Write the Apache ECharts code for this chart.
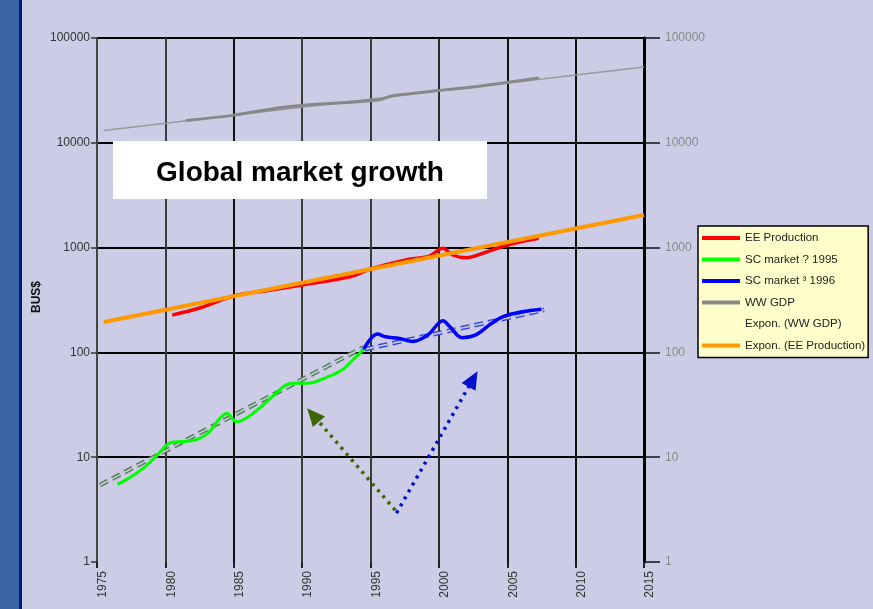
<!DOCTYPE html>
<html>
<head>
<meta charset="utf-8">
<script src="https://cdn.jsdelivr.net/npm/echarts@6/dist/echarts.min.js"></script>
<style>
html,body{margin:0;padding:0;background:#CCCCE6;}
#chart{width:873px;height:609px;}
</style>
</head>
<body>
<div id="chart"></div>
<script>
// ---------- data ----------
const xTickYears = [1975, 1980, 1985, 1990, 1995, 2000, 2005, 2010, 2015];
const yTickValues = [1, 10, 100, 1000, 10000, 100000];

const eeYears  = [1980.5, 1982.5, 1985, 1987.5, 1990, 1993.5, 1995, 1997.5, 1999.3, 2000.3, 2001, 2002, 2003.3, 2005, 2007.3];
const eeValues = [227, 265, 345, 390, 440, 527, 625, 760, 830, 985, 850, 800, 890, 1060, 1230];

const scAYears  = [1976.5, 1977.5, 1978.5, 1979.3, 1980.3, 1981.2, 1982.2, 1983.1, 1984, 1984.5, 1985.2, 1985.9, 1987, 1988.2, 1988.8, 1989.4, 1990.4, 1991.9, 1993, 1993.7, 1994.5];
const scAValues = [5.5, 6.5, 8.1, 10.1, 13.6, 14.1, 14.6, 16.9, 23.5, 26.2, 21.8, 23.5, 30.3, 42, 48.9, 50.7, 50.7, 58.6, 69, 84.6, 107];

const scBYears  = [1994.5, 1995.5, 1996.1, 1997.1, 1998.1, 1999.2, 2000.3, 2000.8, 2001.7, 2002.7, 2003.7, 2004.7, 2006.1, 2007.5];
const scBValues = [107, 150, 141, 136, 127, 147, 201, 176, 138, 147, 183, 219, 244, 258];

const gdpYears  = [1981.5, 1984.9, 1989.1, 1995.6, 1996.6, 2003.2, 2007.3];
const gdpValues = [16360, 18270, 22250, 25600, 28100, 35100, 41600];

const gdpTrendYears  = [1975.5, 2015];
const gdpTrendValues = [13100, 53000];
const eeTrendYears   = [1975.5, 2015];
const eeTrendValues  = [195, 2050];
const scATrendYears  = [1975.2, 1994.5];
const scATrendValues = [5.4, 112];
const scBTrendYears  = [1994.6, 2007.7];
const scBTrendValues = [107, 254];

// arrows: [startYear, startValue, endYear, endValue]
const greenArrow = [1996.8, 3.13, 1990.8, 25.3];
const blueArrow  = [1996.9, 2.93, 2002.5, 55.7];

const legendNames = ['EE Production', 'SC market ? 1995', 'SC market \u00B3 1996', 'WW GDP', 'Expon. (WW GDP)', 'Expon. (EE Production)'];
const titleText = 'Global market growth';
const yName = 'BUS$';

// ---------- build ----------
const pairs = (xs, ys) => xs.map((x, i) => [x, ys[i]]);
const FONT = '"Liberation Sans", Arial, sans-serif';
const BG = '#CCCCE6';

function line(name, data, color, width, extra) {
  return Object.assign({
    name: name, type: 'line', data: data, showSymbol: false, symbol: 'none',
    lineStyle: { color: color, width: width }, itemStyle: { color: color },
    silent: true, smooth: 0.35
  }, extra || {});
}
function hollowTrend(data, color) {
  return [
    { type: 'line', data: data, symbol: 'none', silent: true, z: 1,
      lineStyle: { color: color, width: 4.5, type: [9, 5] } },
    { type: 'line', data: data, symbol: 'none', silent: true, z: 1,
      lineStyle: { color: BG, width: 1.6, type: [9, 5] } }
  ];
}

const chart = echarts.init(document.getElementById('chart'), null, { renderer: 'canvas' });

const option = {
  animation: false,
  backgroundColor: BG,
  textStyle: { fontFamily: FONT },
  grid: { left: 97, right: 229, top: 38, bottom: 47 },
  xAxis: {
    type: 'value', min: xTickYears[0], max: xTickYears[xTickYears.length - 1], interval: 5,
    axisLine: { show: false },
    axisTick: { show: true, length: 6, lineStyle: { color: '#222', width: 2 } },
    axisLabel: { rotate: 90, fontSize: 12, color: '#333', margin: 9, fontFamily: FONT,
                 verticalAlign: 'top', formatter: v => String(v) },
    splitLine: { show: true, lineStyle: { width: 2,
      color: ['#333', '#3a3a3a', '#111', '#3a3a3a', '#3a3a3a', '#2a2a2a', '#111', '#111', '#111'] } }
  },
  yAxis: [
    {
      type: 'log', logBase: 10, min: yTickValues[0], max: yTickValues[yTickValues.length - 1],
      axisLine: { show: true, lineStyle: { color: '#444', width: 2 } },
      axisTick: { show: true, length: 6, lineStyle: { color: '#333', width: 1.5 } },
      axisLabel: { fontSize: 12, color: '#333', margin: 7, fontFamily: FONT, formatter: v => String(Math.round(v)) },
      splitLine: { show: true, showMinLine: false, lineStyle: { color: '#000', width: 2 } }
    },
    {
      type: 'log', logBase: 10, min: yTickValues[0], max: yTickValues[yTickValues.length - 1],
      position: 'right',
      axisLine: { show: true, lineStyle: { color: '#000', width: 3 } },
      axisTick: { show: true, length: 16, lineStyle: { color: '#111', width: 1.5 } },
      axisLabel: { fontSize: 12, color: '#8a8a8a', margin: 21, fontFamily: FONT, formatter: v => String(Math.round(v)) },
      splitLine: { show: false }
    }
  ],
  legend: {
    orient: 'vertical', left: 698, top: 226,
    backgroundColor: '#FFFFCC', borderColor: '#000', borderWidth: 1.5,
    padding: [5, 3, 5, 4], itemGap: 7.5, itemWidth: 38, itemHeight: 4, icon: 'rect',
    selectedMode: false,
    textStyle: { fontSize: 11.5, color: '#222', fontFamily: FONT, lineHeight: 14 },
    data: [
      { name: legendNames[0] }, { name: legendNames[1] }, { name: legendNames[2] }, { name: legendNames[3] },
      { name: legendNames[4], itemStyle: { opacity: 0 } }, { name: legendNames[5] }
    ]
  },
  graphic: [
    { type: 'rect', z: -10, shape: { x: 0, y: 0, width: 19, height: 609 }, style: { fill: '#3a64a5' } },
    { type: 'rect', z: -10, shape: { x: 19, y: 0, width: 3, height: 609 }, style: { fill: '#0b1a80' } },
    { type: 'text', z: 5, x: 37, y: 297, rotation: Math.PI / 2,
      style: { text: yName, font: 'bold 12px ' + FONT, fill: '#111', textAlign: 'center', textVerticalAlign: 'middle' } },
    { type: 'rect', z: 50, shape: { x: 113, y: 141, width: 374, height: 58 }, style: { fill: '#FFFFFF' } },
    { type: 'text', z: 51, x: 300, y: 173,
      style: { text: titleText, font: 'bold 28px ' + FONT, fill: '#000', textAlign: 'center', textVerticalAlign: 'middle' } }
  ],
  series: [
    line(legendNames[4], pairs(gdpTrendYears, gdpTrendValues), '#9a9a9a', 1.5, { smooth: false }),
    line(legendNames[3], pairs(gdpYears, gdpValues), '#888888', 3),
    ...hollowTrend(pairs(scATrendYears, scATrendValues), '#4f7f4f'),
    ...hollowTrend(pairs(scBTrendYears, scBTrendValues), '#3344dd'),
    line(legendNames[1], pairs(scAYears, scAValues), '#00FF00', 3),
    line(legendNames[2], pairs(scBYears, scBValues), '#0000FF', 3.5, {
      markLine: {
        silent: true, symbol: ['none', 'triangle'], symbolSize: [16, 18], label: { show: false },
        data: [
          [{ coord: [greenArrow[0], greenArrow[1]], lineStyle: { color: '#3d6600', width: 3.5, type: [3, 5] } },
           { coord: [greenArrow[2], greenArrow[3]] }],
          [{ coord: [blueArrow[0], blueArrow[1]], lineStyle: { color: '#0010cc', width: 3.5, type: [3, 5] } },
           { coord: [blueArrow[2], blueArrow[3]] }]
        ]
      }
    }),
    line(legendNames[0], pairs(eeYears, eeValues), '#FF0000', 3.5),
    line(legendNames[5], pairs(eeTrendYears, eeTrendValues), '#FF9900', 4, { smooth: false })
  ]
};
chart.setOption(option);
</script>
</body>
</html>
